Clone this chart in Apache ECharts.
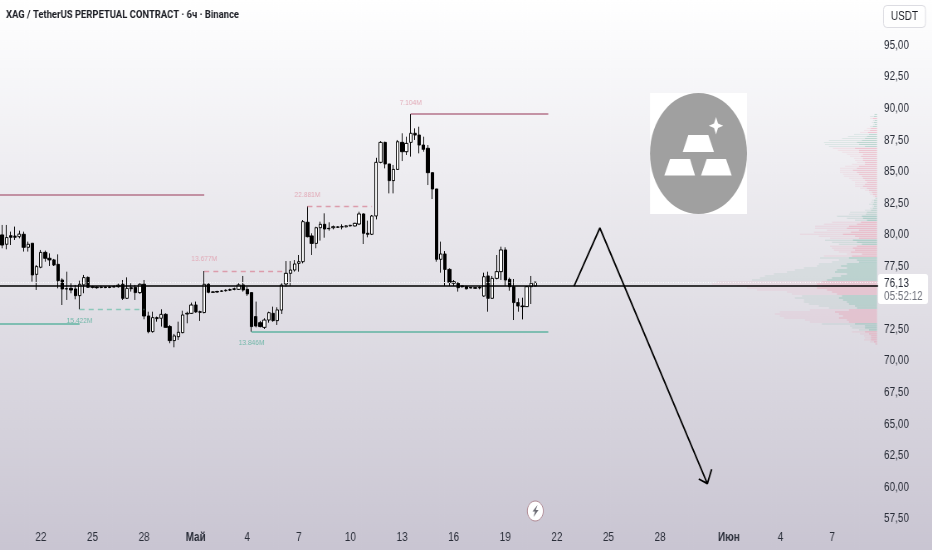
<!DOCTYPE html>
<html><head><meta charset="utf-8">
<style>html,body{margin:0;padding:0;background:#fff;overflow:hidden;width:932px;height:550px}
#c{width:1122.89px;height:550px;transform:scaleX(.83);transform-origin:0 0;filter:blur(.35px)}</style>
<script src="https://cdn.jsdelivr.net/npm/echarts@6/dist/echarts.min.js"></script>
</head><body><div id="c"></div>
<script>
const titleText = 'XAG / TetherUS PERPETUAL CONTRACT · 6ч · Binance';
const currency = 'USDT';
const lastPrice = 76.13;
const countdown = '05:52:12';
const levelPrice = 75.82;
const priceTicks = [95,92.5,90,87.5,85,82.5,80,77.5,72.5,70,67.5,65,62.5,60,57.5];
const xTickDates = {'04-22 00':'22','04-25 00':'25','04-28 00':'28','05-01 00':'Май','05-04 00':'4','05-07 00':'7','05-10 00':'10','05-13 00':'13','05-16 00':'16','05-19 00':'19','05-22 00':'22','05-25 00':'25','05-28 00':'28','06-01 00':'Июн','06-04 00':'4','06-07 00':'7'};
// [open, close, low, high], 6h candles, the first one is Apr 19 18:00
const candles = [
[79.88,79.08,78.82,80.67],[79.14,79.67,78.74,80.67],[79.82,79.69,79.08,80.14],[79.79,79.69,79.48,80.54],[79.74,79.95,79.61,80.22],
[79.93,78.90,78.56,80.14],[78.90,79.14,78.56,79.35],[79.22,76.71,76.18,79.22],[76.76,77.37,75.52,77.50],[77.32,78.50,77.24,78.69],
[78.50,78.03,77.76,78.64],[78.03,77.90,77.42,78.42],[77.90,77.50,77.42,77.98],[77.55,76.26,75.65,78.34],[76.31,75.60,74.33,76.44],
[75.60,75.62,74.73,76.97],[75.65,75.52,75.26,76.05],[75.60,75.07,74.78,75.92],[75.07,75.97,73.99,76.26],[75.92,76.50,75.26,76.71],
[76.52,75.73,75.70,76.58],[75.78,75.73,75.65,75.85],[75.75,75.70,75.62,75.82],[75.72,75.75,75.65,75.85],[75.75,75.72,75.65,75.82],
[75.72,75.76,75.66,75.84],[75.76,75.78,75.70,75.88],[75.78,75.90,75.70,76.02],[75.97,74.86,74.73,76.31],[74.86,75.65,74.81,76.52],
[75.70,75.62,75.39,76.05],[75.73,75.31,74.73,75.92],[75.31,75.97,75.21,76.05],[75.97,73.46,73.20,76.31],[73.46,72.22,72.09,73.80],
[72.22,73.33,72.14,73.80],[73.33,73.25,73.01,73.41],[73.28,73.59,72.62,73.99],[73.59,72.56,72.56,73.67],[72.62,71.51,71.30,72.75],
[71.51,71.88,70.98,72.04],[71.82,72.17,71.56,73.01],[72.14,73.54,72.09,73.88],[73.62,73.67,72.88,73.80],[73.67,74.33,73.62,74.52],
[74.33,73.78,73.73,74.60],[73.80,73.75,73.07,73.88],[73.73,75.97,73.67,77.02],[75.97,75.34,75.26,76.05],[75.34,75.36,75.28,75.42],
[75.36,75.40,75.30,75.46],[75.42,75.44,75.36,75.50],[75.46,75.50,75.40,75.56],[75.50,75.56,75.44,75.62],[75.56,75.62,75.50,75.70],
[75.57,75.92,75.52,76.05],[75.92,75.52,75.39,76.63],[75.57,75.21,75.05,75.78],[75.31,72.62,72.22,75.31],[73.41,72.67,72.56,74.60],
[72.93,72.62,72.56,73.07],[72.56,73.14,72.43,73.28],[73.14,73.72,72.93,73.80],[73.67,73.09,73.01,74.20],[73.09,73.94,72.75,74.15],
[73.93,75.91,73.62,76.05],[75.99,76.84,75.78,77.81],[76.84,77.10,75.84,77.81],[77.10,77.58,76.97,77.89],[77.63,77.76,76.97,78.29],
[77.76,80.93,77.63,81.06],[80.88,79.74,79.69,82.17],[79.80,79.21,78.29,80.01],[79.21,80.45,78.82,80.53],[80.45,80.72,79.43,80.93],
[80.72,80.35,79.66,81.59],[80.40,80.37,80.22,80.88],[80.45,80.53,80.32,80.62],[80.48,80.52,80.44,80.56],[80.55,80.50,80.32,80.72],
[80.52,80.60,80.48,80.64],[80.60,80.64,80.54,80.68],[80.59,80.80,80.55,80.84],[80.74,81.54,80.66,81.72],[81.54,80.01,79.16,81.59],
[80.01,79.93,79.69,81.01],[79.93,81.38,79.87,81.46],[81.38,85.63,81.11,85.99],[85.63,87.21,85.55,87.31],[87.21,85.50,85.15,87.26],
[85.50,84.18,83.17,85.50],[84.18,85.07,83.17,85.42],[85.07,87.26,85.02,87.40],[87.21,86.47,85.73,87.93],[86.47,87.13,86.21,87.66],
[87.21,87.93,86.08,89.46],[87.93,87.79,87.40,88.32],[87.79,87.00,86.34,88.45],[87.00,86.66,86.47,87.66],[86.74,84.81,83.83,87.00],
[84.81,83.52,82.72,84.81],[83.52,77.95,77.76,83.52],[77.95,78.37,76.89,79.35],[78.37,77.15,75.84,78.60],[77.15,76.13,75.84,77.23],
[76.05,76.18,75.84,76.31],[76.05,75.70,75.39,76.13],[75.84,75.78,75.70,75.90],[75.78,75.62,75.55,75.85],[75.72,75.68,75.62,75.76],
[75.70,75.66,75.60,75.75],[75.72,75.68,75.57,75.82],[75.04,76.57,74.99,76.89],[76.63,74.86,73.80,76.97],[74.86,76.44,74.81,76.63],
[76.44,76.97,76.36,78.29],[76.97,78.69,76.31,78.95],[78.69,76.31,75.84,78.90],[76.36,75.78,75.46,76.50],[75.78,74.52,73.14,76.39],
[74.52,74.25,73.80,74.86],[74.25,74.20,73.19,74.91],[74.20,75.78,74.20,75.84],[75.78,76.05,74.41,76.63],[75.84,76.13,75.80,76.20]
];
// [firstCandle, lastCandle, price, colour key, dashed]
const levels = [
[-1,47,83.04,'rose',0],[95,127,89.46,'rose',0],[47,66,77.02,'rose',1],[71,86,82.17,'rose',1],
[-1,18,72.83,'teal',0],[18,33,73.99,'teal',1],[58,127,72.19,'teal',0]
];
// [candle, price, text, colour key]
const volumeLabels = [[47,77.97,'13.677M','rose'],[71,83.04,'22.881M','rose'],[95,90.33,'7.104M','rose'],[18,73.06,'15.422M','teal'],[58,71.32,'13.846M','teal']];
// hand drawn arrow [candle, price]
const arrowPath = [[133,75.83],[139,80.43],[164,60.18],[162,60.55],[164,60.18],[165,61.32]];
// volume profile rows
const profileTop = 89.42, profileStep = 0.158;
const profileTotal = [3,7,7,4,5,4,7,10,13,17,23,29,35,48,53,52,48,44,39,35,30,27,23,22,20,25,32,37,37,37,34,33,28,25,22,22,22,17,12,8,7,4,2,5,6,8,5,7,12,27,28,40,
30,22,45,53,62,62,50,63,77,58,47,52,45,38,47,45,43,38,30,53,57,38,45,58,60,73,82,90,103,112,117,125,160,165,140,130,120,90,85,75,82,73,73,68,58,48,67,97,102,97,93,72,67,55,27,25,18,25,17,13,12,13,7,2];
const profileInner = [2,3,4,2,3,2,4,6,7,9,8,10,12,15,20,18,12,22,18,18,14,16,14,14,12,12,18,20,24,20,18,15,14,12,10,12,14,10,8,5,4,2,1,3,3,4,3,4,6,10,11,15,
14,10,16,20,28,30,18,26,34,22,18,24,20,15,20,24,22,26,15,25,28,20,18,30,36,30,40,42,30,36,45,50,55,60,55,60,50,45,40,35,38,34,30,28,22,20,28,42,38,34,38,30,28,22,12,12,8,12,8,6,6,6,3,1];
const profileSide = 'ggpggggpppgggggggppppppppppppppppppppppppp'+'gggggggggg'+'ggppppppppp'+'ggg'+'pppppp'+'gggggggggggg'+'ppppppp'+'ggggggg'+'ppppppp'+'gggg'+'ppppppp';

// the reference is squeezed sideways: the page scales the chart by S with CSS
const S = 0.83, X = v => v / S;
const FONT = "'Liberation Sans',sans-serif";
const C = {rose:'#b5738a', teal:'#5fb3a2'};
const DASH = {rose:'#dc9cab', teal:'#8cc8ba'};
const LBL = {rose:'#e2aab7', teal:'#72b8aa'};
const yMin = 56.748, yMax = 98.485;

const categories = [];
{
  const t = Date.UTC(2025,3,19,12);
  const p = n => String(n).padStart(2,'0');
  for (let i = 0; i < 206; i++) {
    const d = new Date(t + i*6*3600*1000);
    categories.push(p(d.getUTCMonth()+1)+'-'+p(d.getUTCDate())+' '+p(d.getUTCHours()));
  }
}
const catOf = i => categories[i+1];
const profileRows = profileTotal.map((v,i)=>[+(profileTop-i*profileStep).toFixed(3), v, profileInner[i], profileSide[i]==='g'?0:1]);
const PAL_HIGH = [['rgba(110,175,155,.15)','rgba(80,165,140,.24)'],['rgba(235,120,150,.12)','rgba(235,105,135,.25)']];
const PAL_LOW = [['rgba(110,175,155,.22)','rgba(70,165,140,.36)'],['rgba(235,120,150,.16)','rgba(235,105,135,.32)']];

const option = {
  animation:false,
  backgroundColor:{type:'linear',x:0,y:0,x2:0,y2:1,colorStops:[{offset:0,color:'#ffffff'},{offset:.12,color:'#f8f8fa'},{offset:.5,color:'#e4e2e8'},{offset:1,color:'#c9c5d2'}]},
  grid:[
    {left:X(-4.3),top:0,width:X(885.8),height:527,outerBoundsMode:'none',containLabel:false},
    {left:X(700),top:0,width:X(177),height:527,outerBoundsMode:'none',containLabel:false}
  ],
  xAxis:[
    {type:'category',gridIndex:0,data:categories,boundaryGap:true,axisLine:{show:false},axisTick:{show:false},splitLine:{show:false},
     axisLabel:{margin:5,fontFamily:FONT,fontSize:12,color:'#2a2e39',hideOverlap:false,
       interval:(i,v)=>v in xTickDates,
       formatter:v=>{const s=xTickDates[v];return /\d/.test(s)?s:'{b|'+s+'}';},
       rich:{b:{fontFamily:FONT,fontSize:12,fontWeight:'bold',color:'#2a2e39'}}}},
    {type:'value',gridIndex:1,min:0,max:177,inverse:true,show:false}
  ],
  yAxis:[
    {type:'value',gridIndex:0,position:'right',min:yMin,max:yMax,axisLine:{show:false},axisTick:{show:false},splitLine:{show:false},
     axisLabel:{customValues:priceTicks,margin:3,align:'left',fontFamily:FONT,fontSize:12,color:'#2a2e39',
       formatter:v=>'{a|'+v.toFixed(2).replace('.',',')+'}',
       rich:{a:{fontFamily:FONT,fontSize:12,color:'#2a2e39',padding:[3,0,0,0]}}}},
    {type:'value',gridIndex:1,min:yMin,max:yMax,show:false}
  ],
  series:[
    {type:'custom',xAxisIndex:1,yAxisIndex:1,z:1,silent:true,data:profileRows,encode:{x:1,y:0},
     renderItem:(p,api)=>{
       const price=api.value(0),tot=api.value(1),inn=api.value(2),pal=(price>81.5?PAL_HIGH:PAL_LOW)[api.value(3)];
       const a=api.coord([tot,price]),b=api.coord([inn,price]),o=api.coord([0,price]);
       const h=api.size([0,0.08])[1];
       return {type:'group',children:[
         {type:'rect',shape:{x:a[0],y:o[1]-h/2,width:o[0]-a[0],height:h},style:{fill:pal[0]}},
         {type:'rect',shape:{x:b[0],y:o[1]-h/2,width:o[0]-b[0],height:h},style:{fill:pal[1]}}
       ]};
     }},
    {type:'candlestick',xAxisIndex:0,yAxisIndex:0,z:3,barWidth:3.8,silent:true,
     data:candles.map((c,i)=>[catOf(i),...c]),encode:{x:0,y:[1,2,3,4]},
     itemStyle:{color:'#ffffff',color0:'#000000',borderColor:'#000000',borderColor0:'#000000',borderColorDoji:'#000000',borderWidth:1}},
    {type:'line',xAxisIndex:0,yAxisIndex:0,z:4,silent:true,data:[],
     markLine:{silent:true,symbol:'none',animation:false,label:{show:false},
       data:levels.map(l=>[
         {coord:[l[0]<0?categories[0]:catOf(l[0]),l[2]],lineStyle:{color:l[4]?DASH[l[3]]:C[l[3]],width:l[4]?1.4:1.6,type:l[4]?[6,5]:'solid'}},
         {coord:[catOf(l[1]),l[2]]}
       ]).concat([
         {yAxis:lastPrice,lineStyle:{color:'#ffffff',width:1,type:[1,2]}},
         {yAxis:levelPrice,lineStyle:{color:'#000000',width:1.5,type:'solid'}}
       ])
     },
     markPoint:{silent:true,symbol:'circle',symbolSize:0,animation:false,
       data:volumeLabels.map(l=>({coord:[catOf(l[0]),l[1]],label:{show:true,position:'inside',formatter:l[2],fontFamily:FONT,fontSize:8,color:LBL[l[3]]}}))
     }},
    {type:'line',xAxisIndex:0,yAxisIndex:0,z:5,silent:true,symbol:'none',lineStyle:{color:'#000000',width:1.8},
     data:arrowPath.map(p=>[catOf(p[0]),p[1]])}
  ],
  graphic:[
    {type:'text',z:61,style:{x:X(6),y:15.5,text:titleText,align:'left',verticalAlign:'middle',font:"bold 11.4px Roboto,"+FONT,fill:'#1d1f26'}},
    {type:'rect',z:50,shape:{x:X(650),y:93,width:X(97),height:121},style:{fill:'#ffffff'}},
    {type:'ellipse',z:51,shape:{cx:X(698.5),cy:153.5,rx:X(48.5),ry:60.5},style:{fill:'#a0a0a0'}},
    {type:'polygon',z:52,shape:{points:[[688.3,135],[708.3,135],[714,152],[682.7,152]].map(p=>[X(p[0]),p[1]])},style:{fill:'#fff'}},
    {type:'polygon',z:52,shape:{points:[[670,159],[690,159],[695,175.5],[664.3,175.5]].map(p=>[X(p[0]),p[1]])},style:{fill:'#fff'}},
    {type:'polygon',z:52,shape:{points:[[706.7,159],[726,159],[731.7,175.5],[701,175.5]].map(p=>[X(p[0]),p[1]])},style:{fill:'#fff'}},
    {type:'polygon',z:52,shape:{points:[[716,117],[718,123.5],[723.2,125.7],[718,128],[716,134.5],[714,128],[708.8,125.7],[714,123.5]].map(p=>[X(p[0]),p[1]])},style:{fill:'#fff'}},
    {type:'rect',z:60,shape:{x:X(883.5),y:5.5,width:X(42),height:22,r:4},style:{fill:'rgba(255,255,255,.6)',stroke:'#dcdce2',lineWidth:1}},
    {type:'text',z:61,style:{x:X(904.5),y:16.5,text:currency,align:'center',verticalAlign:'middle',font:"12px "+FONT,fill:'#1d1f26'}},
    {type:'rect',z:60,shape:{x:X(878),y:274,width:X(50),height:30,r:3},style:{fill:'#ffffff'}},
    {type:'text',z:61,style:{x:X(884),y:284,text:lastPrice.toFixed(2).replace('.',','),align:'left',verticalAlign:'middle',font:"12px "+FONT,fill:'#2a2e39'}},
    {type:'text',z:61,style:{x:X(884),y:297,text:countdown,align:'left',verticalAlign:'middle',font:"12px "+FONT,fill:'#6f727c'}},
    {type:'ellipse',z:60,shape:{cx:X(535.3),cy:511,rx:X(8),ry:10},style:{fill:'#fff',stroke:'#b08a94',lineWidth:1}},
    {type:'polygon',z:61,shape:{points:[[537.5,505],[532.5,511.5],[535,511.5],[533.5,517],[538.5,510],[535.8,510]].map(p=>[X(p[0]),p[1]])},style:{fill:'#6b6b73'}}
  ]
};
echarts.init(document.getElementById('c'),null,{renderer:'canvas'}).setOption(option);
</script></body></html>
